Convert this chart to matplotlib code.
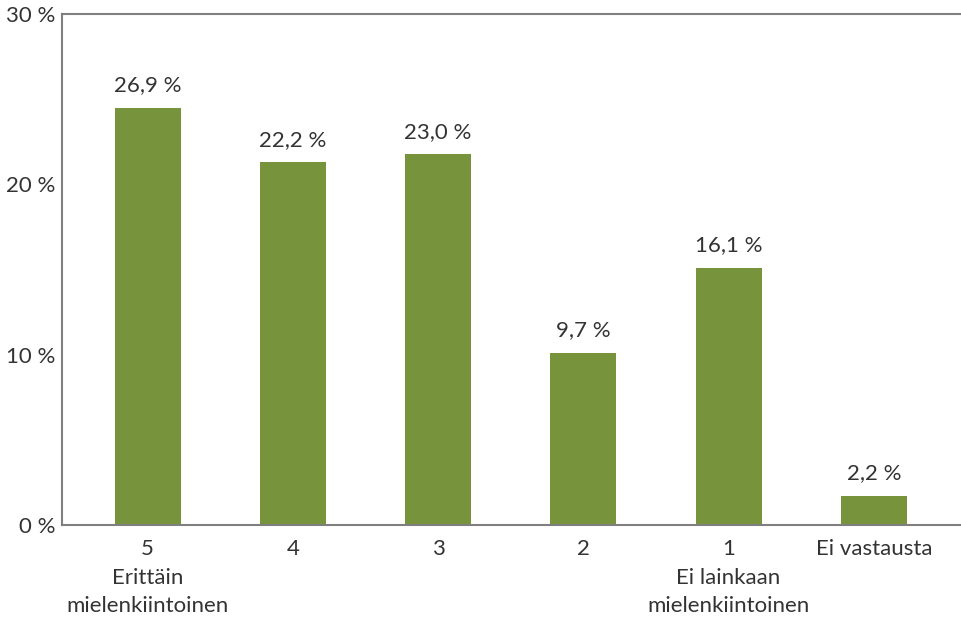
import matplotlib.pyplot as plt

plt.rcParams['font.family'] = ['Lato', 'DejaVu Sans']

categories = ["5\nErittäin\nmielenkiintoinen", "4", "3", "2",
              "1\nEi lainkaan\nmielenkiintoinen", "Ei vastausta"]
# bar heights as drawn in the picture (percent)
heights = [24.5, 21.3, 21.75, 10.1, 15.1, 1.7]
# value labels as printed above the bars
labels = ["26,9 %", "22,2 %", "23,0 %", "9,7 %", "16,1 %", "2,2 %"]
yticks = [0, 10, 20, 30]

green = "#77933c"
txt = "#333333"
axcol = "#7f7f7f"

fig = plt.figure(figsize=(9.61, 6.21), dpi=100)
ax = fig.add_axes([0.0645, 0.1546, 0.9355, 0.823])

x = range(len(categories))
bars = ax.bar(x, heights, width=0.455, color=green)
for b, lab in zip(bars, labels):
    ax.annotate(lab, (b.get_x() + b.get_width() / 2, b.get_height()),
                xytext=(0, 9), textcoords="offset points",
                ha="center", va="bottom", fontsize=16, color=txt)

ax.set_xlim(-0.59, 5.6)
ax.set_ylim(0, 30)
ax.set_yticks(yticks)
ax.set_yticklabels([f"{t} %" for t in yticks])
ax.set_xticks(list(x))
ax.set_xticklabels(categories, linespacing=1.55)
ax.tick_params(axis="both", length=0, labelsize=16, colors=txt)
ax.tick_params(axis="x", pad=10)
ax.tick_params(axis="y", pad=5)

for s in ["left", "top", "bottom"]:
    ax.spines[s].set_color(axcol)
    ax.spines[s].set_linewidth(1.5)
ax.spines["right"].set_visible(False)

plt.savefig("out.png", dpi=100)
